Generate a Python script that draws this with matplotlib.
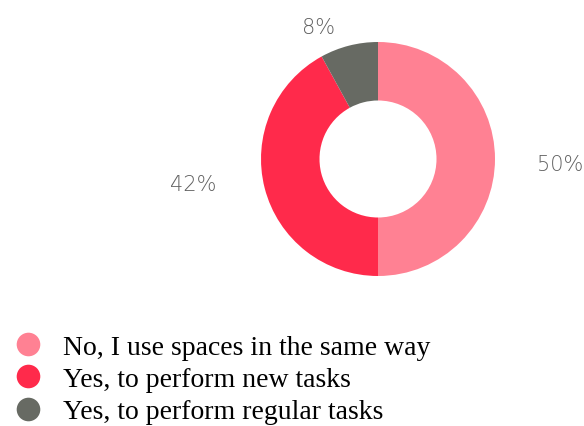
import matplotlib
matplotlib.use("Agg")
import matplotlib.pyplot as plt
from matplotlib.lines import Line2D

labels = ["No, I use spaces in the same way",
          "Yes, to perform new tasks",
          "Yes, to perform regular tasks"]
values = [50, 42, 8]
colors = ["#FF8193", "#FF2A4B", "#676A63"]
# where each percentage sits, in units of the outer radius
label_pos = [(1.56, -0.04), (-1.58, -0.21), (-0.51, 1.13)]

W, H = 584, 427
fig = plt.figure(figsize=(W / 100, H / 100), dpi=100)

cx, cy, r = 378, 160, 117
ax = fig.add_axes([(cx - r) / W, 1 - (cy + r) / H, 2 * r / W, 2 * r / H])
wedges, _ = ax.pie(values, colors=colors, startangle=90, counterclock=False,
                   radius=1, wedgeprops=dict(width=0.5, linewidth=0))
ax.set_xlim(-1, 1)
ax.set_ylim(-1, 1)
ax.set_aspect("equal")
ax.axis("off")

for v, (x, y) in zip(values, label_pos):
    ax.text(x, y, f"{v}%", ha="center", va="center", fontsize=15,
            color="#606060", family="DejaVu Sans", weight="light",
            clip_on=False)

handles = [Line2D([], [], marker="o", linestyle="none", markersize=17,
                  markerfacecolor=c, markeredgewidth=0) for c in colors]
fig.legend(handles, labels, loc="upper left",
           bbox_to_anchor=(0.0, 1 - 324 / H), frameon=False,
           prop=dict(family="Liberation Serif", size=20),
           handletextpad=0.68, labelspacing=0.25, borderaxespad=0,
           handlelength=1.2)

fig.savefig("out.png", dpi=100)
